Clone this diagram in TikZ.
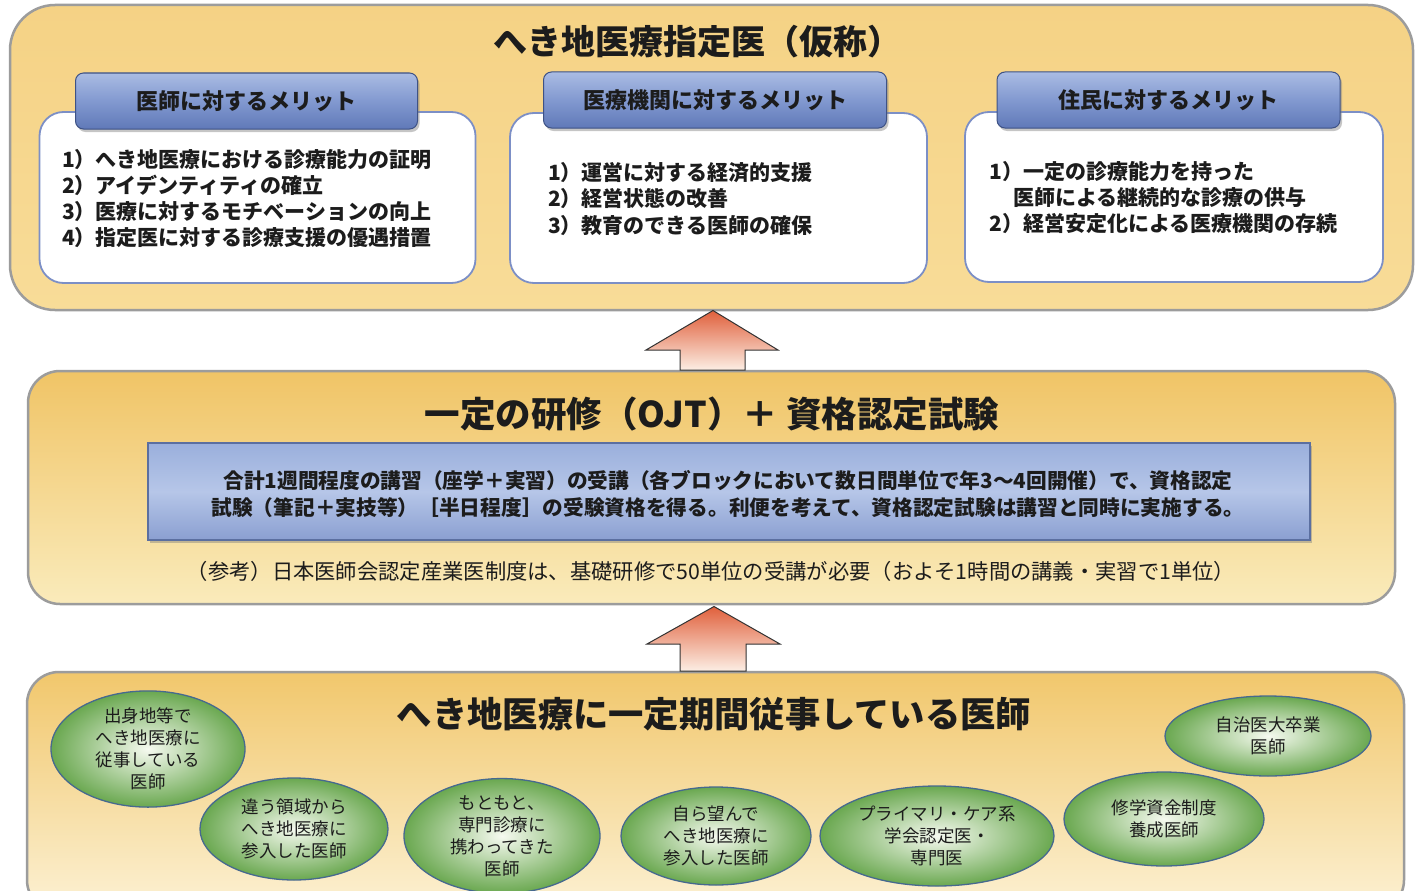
\documentclass[tikz,border=0pt]{standalone}
\usepackage{fontspec}
\setmainfont{Noto Sans CJK JP}
\usetikzlibrary{shapes.geometric,shadows}
\definecolor{panelborder}{HTML}{9C9C9C}
\definecolor{paneltop}{HTML}{F5D285}
\definecolor{panelbot}{HTML}{F8DC98}
\definecolor{midtop}{HTML}{F0C466}
\definecolor{midbot}{HTML}{FAEBBB}
\definecolor{bottop}{HTML}{F1C76C}
\definecolor{botbot}{HTML}{FCF1D4}
\definecolor{boxborder}{HTML}{7C8FC6}
\definecolor{hdrborder}{HTML}{3E5285}
\definecolor{hdrtop}{HTML}{AABCE3}
\definecolor{hdrmid}{HTML}{8299D0}
\definecolor{hdrbot}{HTML}{6079B8}
\definecolor{bluetop}{HTML}{9AAFDC}
\definecolor{bluemid}{HTML}{B6C6E8}
\definecolor{bluebot}{HTML}{8A9FD1}
\definecolor{blueborder}{HTML}{5B6FA0}
\definecolor{arrtop}{HTML}{E0603C}
\definecolor{arrbot}{HTML}{FCEEE4}
\definecolor{ellin}{HTML}{F6FAF0}
\definecolor{ellout}{HTML}{6AA850}
\definecolor{ellborder}{HTML}{46698F}
\definecolor{txt}{HTML}{1C1C1C}
\newcommand\fsz[2]{\fontsize{#1}{#2}\selectfont}
\begin{document}
\begin{tikzpicture}[x=1pt,y=-1pt,
  panel/.style={draw=panelborder, line width=2.5pt, inner sep=0pt},
  whitebox/.style={draw=boxborder, line width=1.8pt, fill=white, rounded corners=24pt, inner sep=0pt},
  header/.style={draw=hdrborder, line width=1pt, rounded corners=8pt, top color=hdrtop, bottom color=hdrbot, middle color=hdrmid, inner sep=0pt,
     drop shadow={shadow xshift=2pt, shadow yshift=-3pt, opacity=0.45}},
  hdrtext/.style={text=txt, font=\fsz{22}{26}\bfseries},
  listtext/.style={text=txt, font=\fsz{21}{26.3}\bfseries, align=left, anchor=west, inner sep=0pt},
  bigtitle/.style={text=txt, inner sep=0pt},
  ell/.style={ellipse, draw=ellborder, line width=1.3pt, inner color=ellin, outer color=ellout, inner sep=0pt,
     text=txt, font=\fsz{17.5}{22}, align=center},
  blockarrow/.style={draw=black!80, line width=1pt, top color=arrtop, bottom color=arrbot}
]
\clip (0,0) rectangle (1421,891);
\fill[white] (0,0) rectangle (1421,891);

% panels
\node[panel, rounded corners=45pt, top color=paneltop, bottom color=panelbot, minimum width=1403pt, minimum height=305pt] (top) at (711.5,157.5) {};
\node[panel, rounded corners=32pt, top color=midtop, bottom color=midbot, minimum width=1367pt, minimum height=233pt] (mid) at (711.5,487.5) {};
\node[panel, rounded corners=32pt, top color=bottop, bottom color=botbot, minimum width=1377pt, minimum height=240pt] (bot) at (715.5,792) {};

% titles
\node[bigtitle, font=\fsz{34}{36}\bfseries] (t1) at (697,42) {へき地医療指定医（仮称）};
\node[bigtitle, font=\fsz{35.5}{38}\bfseries] (t2) at (712,414) {一定の研修（OJT）＋ 資格認定試験};
\node[bigtitle, font=\fsz{35.3}{38}\bfseries] (t3) at (714,714) {へき地医療に一定期間従事している医師};

% white boxes
\node[whitebox, minimum width=436pt, minimum height=171pt] (w1) at (257.5,197.5) {};
\node[whitebox, minimum width=417pt, minimum height=170pt] (w2) at (718.5,198) {};
\node[whitebox, minimum width=418pt, minimum height=170pt] (w3) at (1174,197) {};

% headers
\node[header, minimum width=342pt, minimum height=56pt] (h1) at (246.5,101) {};
\node[header, minimum width=343pt, minimum height=56pt] (h2) at (715,100) {};
\node[header, minimum width=343pt, minimum height=56pt] (h3) at (1168.5,100) {};
\node[hdrtext] (h1t) at (h1) {医師に対するメリット};
\node[hdrtext] (h2t) at (h2) {医療機関に対するメリット};
\node[hdrtext] (h3t) at (h3) {住民に対するメリット};

% lists
\node[listtext] (l1) at (62,198.5) {1）へき地医療における診療能力の証明\\2）アイデンティティの確立\\3）医療に対するモチベーションの向上\\4）指定医に対する診療支援の優遇措置};
\node[listtext] (l2) at (548,199) {1）運営に対する経済的支援\\2）経営状態の改善\\3）教育のできる医師の確保};
\node[listtext] (l3) at (989,197.5) {1）一定の診療能力を持った\\\hspace*{1.15em}医師による継続的な診療の供与\\2）経営安定化による医療機関の存続};

% middle blue box
\node[draw=blueborder, line width=1.6pt, top color=bluetop, bottom color=bluebot, middle color=bluemid,
   minimum width=1162pt, minimum height=97pt, inner sep=0pt,
   drop shadow={shadow xshift=2pt, shadow yshift=-3pt, opacity=0.45}] (blue) at (729,491.5) {};
\node[text=txt, font=\fsz{20.7}{26.5}\bfseries, align=center, inner sep=0pt] (bluet) at (728,494) {合計1週間程度の講習（座学＋実習）の受講（各ブロックにおいて数日間単位で年3～4回開催）で、資格認定\\試験（筆記＋実技等）［半日程度］の受験資格を得る。利便を考えて、資格認定試験は講習と同時に実施する。};
\node[text=txt, font=\fsz{21.3}{24}, inner sep=0pt] (ref) at (711,571) {（参考）日本医師会認定産業医制度は、基礎研修で50単位の受講が必要（およそ1時間の講義・実習で1単位）};

% arrows
\coordinate (a1tip) at (713,310.5);
\coordinate (a2tip) at (714,606.5);
\draw[blockarrow] (a1tip) -- (778,350) -- (745,350) -- (745,370) -- (680,370) -- (680,350) -- (646,350) -- cycle;
\draw[blockarrow] (a2tip) -- (780,644) -- (746,644) -- (746,671) -- (680,671) -- (680,644) -- (647,644) -- cycle;

% ellipses
\node[ell, minimum width=194pt, minimum height=102pt] (e1) at (148,749) {出身地等で\\へき地医療に\\従事している\\医師};
\node[ell, minimum width=188pt, minimum height=102pt] (e2) at (294,829) {違う領域から\\へき地医療に\\参入した医師};
\node[ell, minimum width=196pt, minimum height=100pt] (e3) at (502,836) {もともと、\\専門診療に\\携わってきた\\医師};
\node[ell, minimum width=190pt, minimum height=98pt] (e4) at (716,836) {自ら望んで\\へき地医療に\\参入した医師};
\node[ell, minimum width=234pt, minimum height=100pt] (e5) at (937,836) {プライマリ・ケア系\\学会認定医・\\専門医};
\node[ell, minimum width=200pt, minimum height=94pt] (e6) at (1164,819) {修学資金制度\\養成医師};
\node[ell, minimum width=206pt, minimum height=80pt] (e7) at (1268,736) {自治医大卒業\\医師};
\end{tikzpicture}
\end{document}
